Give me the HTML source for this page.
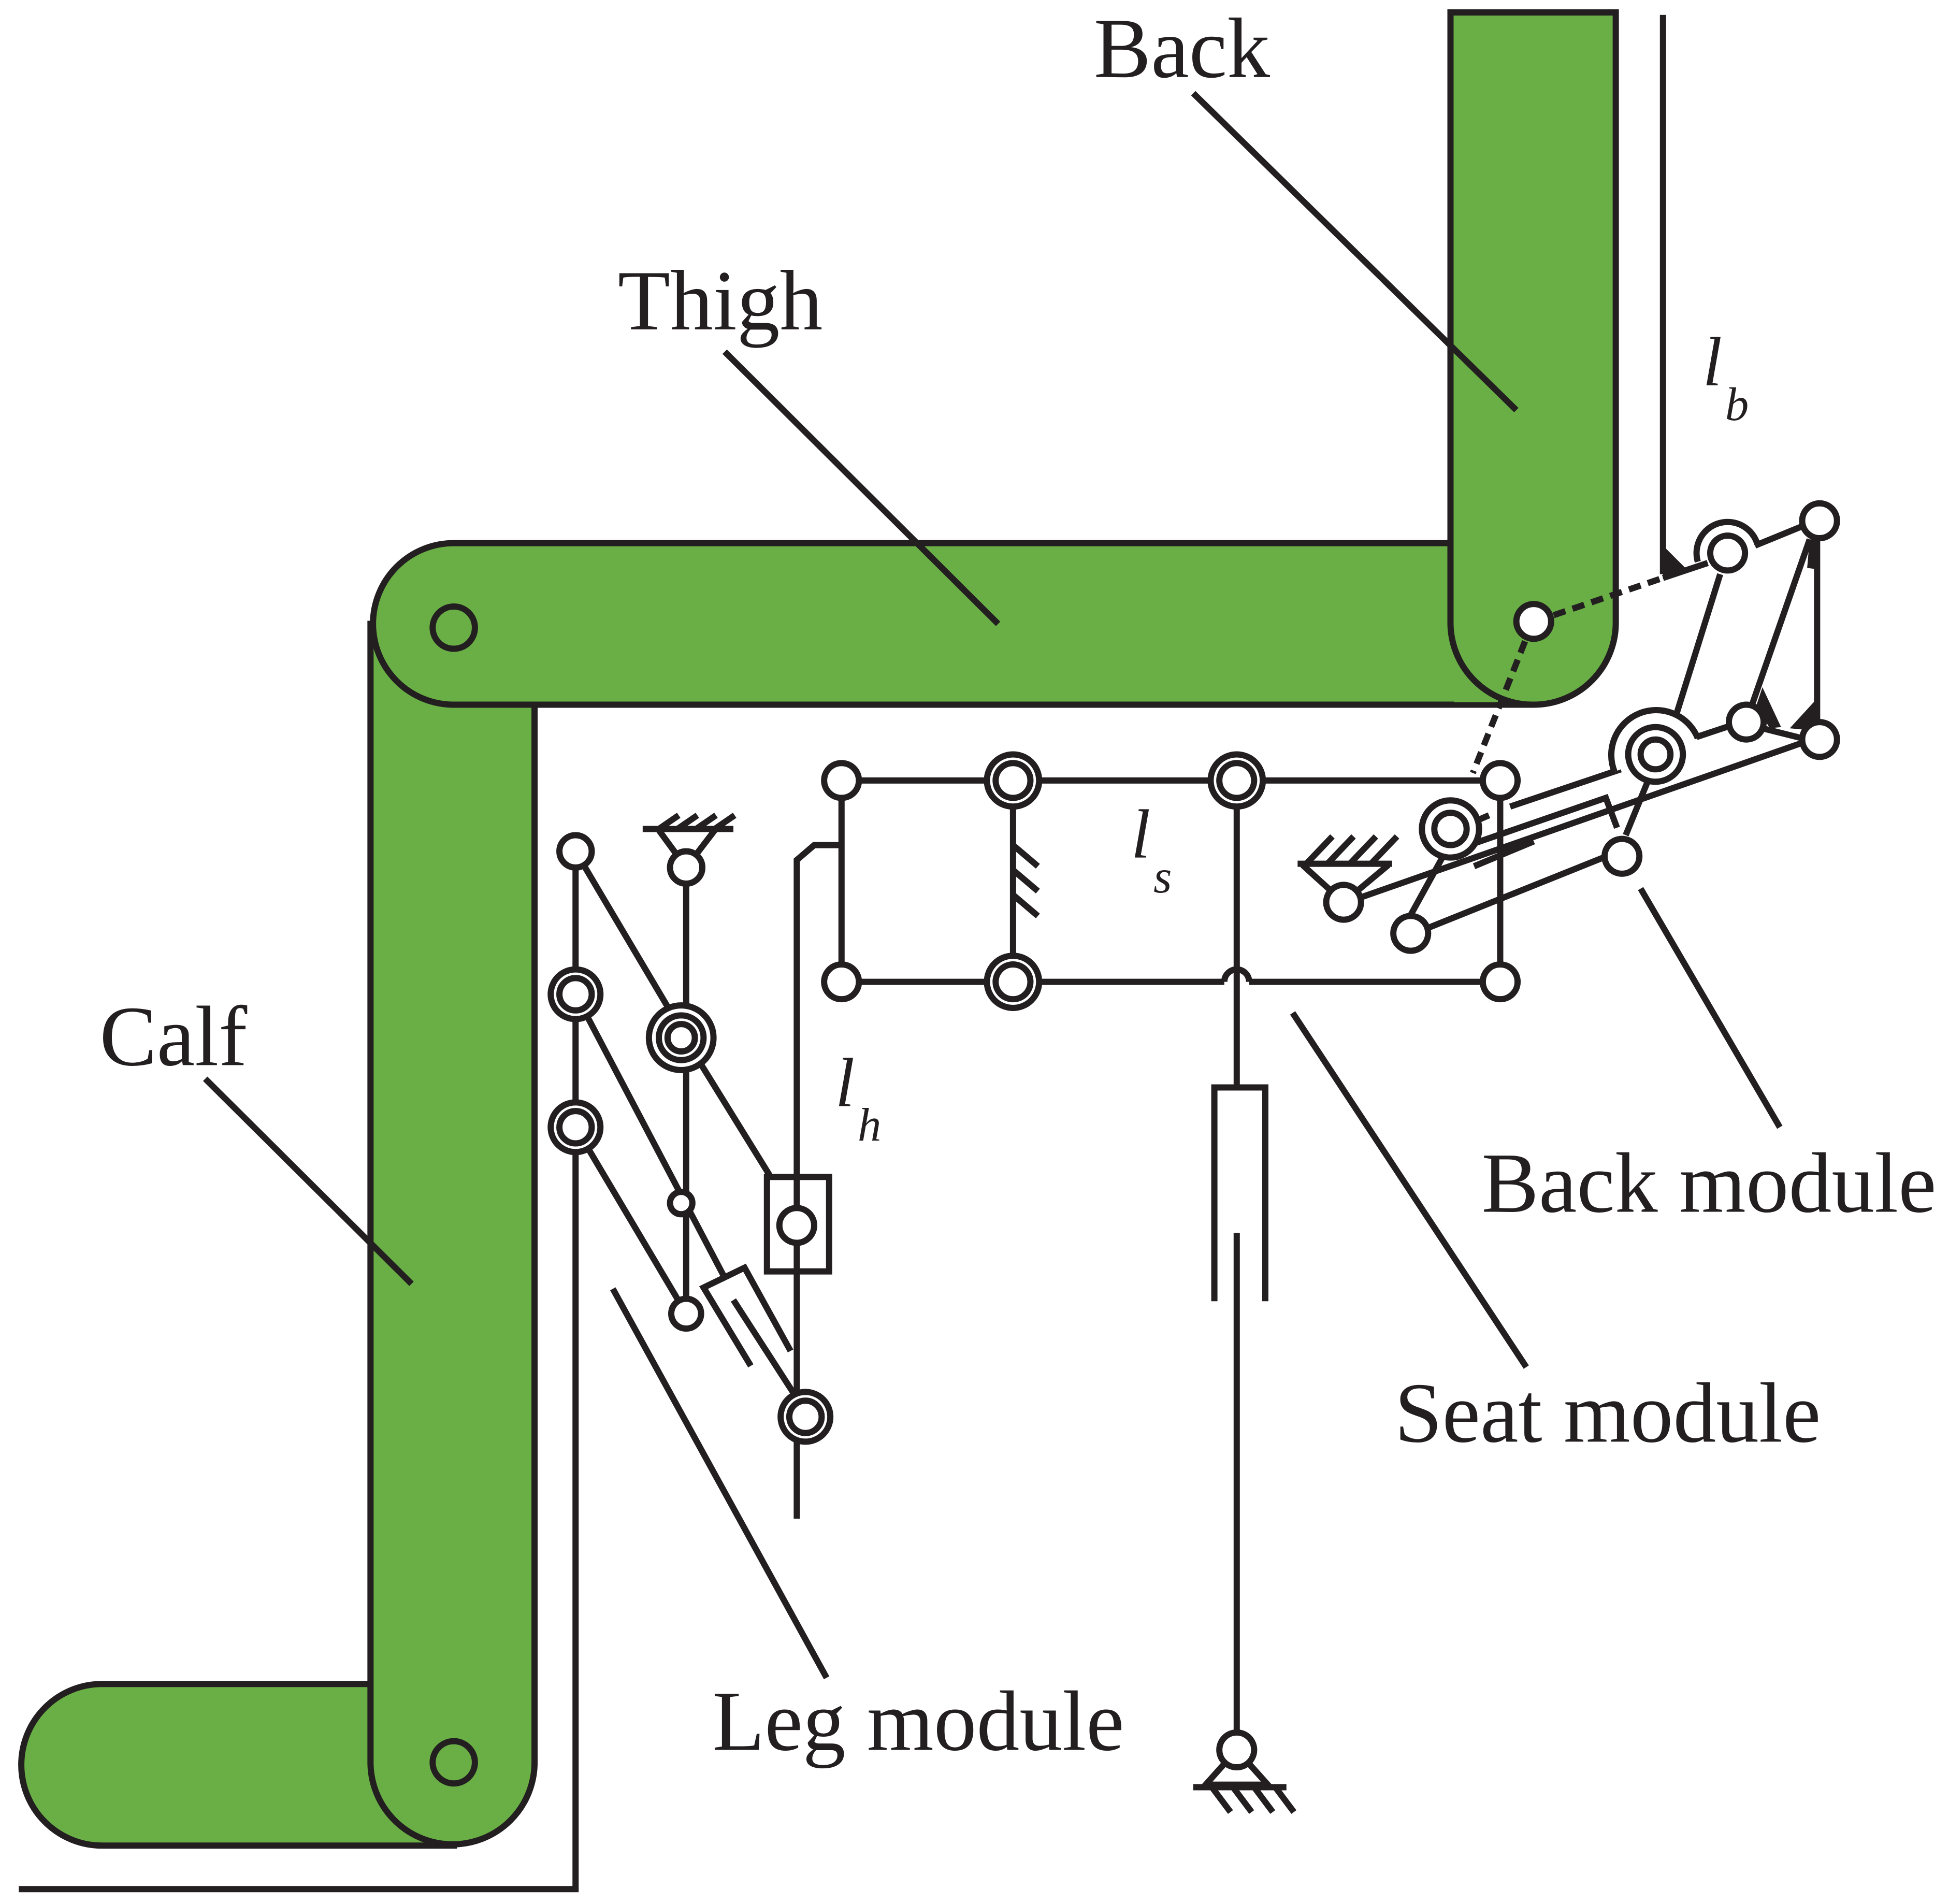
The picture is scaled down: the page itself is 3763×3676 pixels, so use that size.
<!DOCTYPE html>
<html><head><meta charset="utf-8"><style>
html,body{margin:0;padding:0;background:#fff;}
svg{display:block;}
text{font-family:"Liberation Serif",serif;fill:#231f20;}
</style></head><body>
<svg width="3763" height="3676" viewBox="0 0 1568 1532" xmlns="http://www.w3.org/2000/svg">
<g stroke="#231f20" stroke-width="5" fill="none" stroke-linecap="butt">
<path d="M82,1355 H365 V1485 H82 A65,65 0 0 1 82,1355 Z" fill="#6aaf46"/>
<path d="M298,502 V1418 A66,66 0 0 0 430,1418 V502 Z" fill="#6aaf46"/>
<path d="M1200,437 H365 A65,65 0 0 0 365,567 H1234" fill="#6aaf46"/>
<rect x="1170" y="439" width="40" height="126" fill="#6aaf46" stroke="none"/>
<path d="M1167,10 H1300 V500 A66,66 0 0 1 1234,567 A66,66 0 0 1 1167,500 Z" fill="#6aaf46"/>
<circle cx="365" cy="505" r="17" fill="#6aaf46"/>
<circle cx="365" cy="1418" r="17" fill="#6aaf46"/>
<line x1="960" y1="75" x2="1220" y2="330"/>
<line x1="583" y1="283" x2="803" y2="502"/>
<line x1="165" y1="868" x2="331" y2="1033"/>
<line x1="493" y1="1037" x2="665" y2="1350"/>
<line x1="1040" y1="815" x2="1228" y2="1100"/>
<line x1="1320" y1="715" x2="1432" y2="907"/>
<line x1="1338" y1="12" x2="1338" y2="462"/>
<path d="M1338,439 L1359,460 L1338,466 Z" fill="#231f20" stroke="none"/>
<polyline points="463,685 463,1520 15,1520"/>
<line x1="463" y1="685" x2="540" y2="815"/>
<line x1="552" y1="698" x2="552" y2="1057"/>
<line x1="560" y1="850" x2="620" y2="947"/>
<rect x="617" y="947" width="50" height="76" fill="#fff"/>
<polyline points="641,1222 641,692 655,680 677,680"/>
<line x1="463" y1="800" x2="584" y2="1030"/>
<line x1="463" y1="907" x2="552" y2="1057"/>
<polyline points="604,1099 566,1036 599,1020 636,1087"/>
<line x1="590" y1="1046" x2="641" y2="1125"/>
<path d="M530,668 L552,698 L575,668" fill="#fff"/>
<line x1="517" y1="667" x2="590" y2="667"/>
<line x1="530" y1="667" x2="546" y2="656"/><line x1="545" y1="667" x2="561" y2="656"/><line x1="560" y1="667" x2="576" y2="656"/><line x1="575" y1="667" x2="591" y2="656"/>
<line x1="677" y1="628" x2="1207" y2="628"/>
<line x1="677" y1="790" x2="985" y2="790"/>
<line x1="1005" y1="790" x2="1207" y2="790"/>
<path d="M985,790 A10,10 0 0 1 1005,790"/>
<line x1="677" y1="628" x2="677" y2="790"/>
<line x1="815" y1="628" x2="815" y2="790"/>
<line x1="815" y1="680" x2="835" y2="697"/><line x1="815" y1="700" x2="835" y2="717"/><line x1="815" y1="720" x2="835" y2="737"/>
<line x1="1207" y1="628" x2="1207" y2="790"/>
<line x1="995" y1="628" x2="995" y2="875"/>
<polyline points="977,1047 977,875 1018,875 1018,1047"/>
<line x1="995" y1="992" x2="995" y2="1408"/>
<path d="M970,1436 H1020 L995,1408 Z" fill="#fff"/>
<line x1="960" y1="1438" x2="1035" y2="1438"/>
<line x1="975" y1="1438" x2="990" y2="1458"/><line x1="992" y1="1438" x2="1007" y2="1458"/><line x1="1009" y1="1438" x2="1024" y2="1458"/><line x1="1026" y1="1438" x2="1041" y2="1458"/>
<line x1="1250" y1="495" x2="1338" y2="465" stroke-dasharray="10,6"/>
<line x1="1338" y1="465" x2="1374" y2="453"/>
<line x1="1227" y1="516" x2="1185" y2="622" stroke-dasharray="10,6"/>
<line x1="1412" y1="439" x2="1456" y2="421"/>
<line x1="1462" y1="418" x2="1462" y2="595"/>
<line x1="1456" y1="434" x2="1410" y2="566"/>
<path d="M1454,457 L1462,458 L1462,434 L1456,434 Z" fill="#231f20" stroke="none"/>
<path d="M1418,553 L1433,585 L1424,586 L1413,568 Z" fill="#231f20" stroke="none"/>
<path d="M1440,586 L1462,562 L1462,588 Z" fill="#231f20" stroke="none"/>
<line x1="1384" y1="462" x2="1344" y2="590"/>
<line x1="1365" y1="593" x2="1392" y2="584"/>
<line x1="1418" y1="586" x2="1450" y2="594"/>
<line x1="1452" y1="597" x2="1095" y2="722"/>
<line x1="1215" y1="649" x2="1304" y2="619"/>
<polyline points="1182,680 1292,642 1301,666"/>
<line x1="1186" y1="697" x2="1234" y2="677"/>
<polyline points="1326,628 1308,672"/>
<line x1="1184" y1="662" x2="1198" y2="656"/>
<line x1="1134" y1="738" x2="1161" y2="689"/>
<line x1="1148" y1="747" x2="1290" y2="690"/>
<path d="M1048,696 L1081,726 L1117,696" fill="#fff"/>
<line x1="1044" y1="695" x2="1120" y2="695"/>
<line x1="1051" y1="695" x2="1072" y2="673"/><line x1="1068" y1="695" x2="1089" y2="673"/><line x1="1086" y1="695" x2="1107" y2="673"/><line x1="1103" y1="695" x2="1124" y2="673"/>
<g fill="#fff">
<circle cx="1234" cy="500" r="14"/>
<circle cx="463" cy="685" r="13"/>
<circle cx="552" cy="698" r="13"/>
<circle cx="463" cy="800" r="20"/><circle cx="463" cy="800" r="13"/>
<circle cx="463" cy="907" r="20"/><circle cx="463" cy="907" r="13"/>
<circle cx="548" cy="835" r="26"/><circle cx="548" cy="835" r="18"/><circle cx="548" cy="835" r="11"/>
<circle cx="548" cy="968" r="9"/>
<circle cx="552" cy="1057" r="12"/>
<circle cx="641" cy="986" r="14"/>
<circle cx="648" cy="1140" r="20"/><circle cx="648" cy="1140" r="13"/>
<circle cx="677" cy="628" r="14"/>
<circle cx="815" cy="628" r="21"/><circle cx="815" cy="628" r="14"/>
<circle cx="995" cy="628" r="21"/><circle cx="995" cy="628" r="14"/>
<circle cx="1207" cy="628" r="14"/>
<circle cx="677" cy="790" r="14"/>
<circle cx="815" cy="790" r="21"/><circle cx="815" cy="790" r="14"/>
<circle cx="1207" cy="790" r="14"/>
<circle cx="995" cy="1408" r="14"/>
<path d="M1366,452 A25,25 0 1 1 1414,438"/>
<circle cx="1390" cy="445" r="14"/>
<circle cx="1464" cy="419" r="14"/>
<circle cx="1464" cy="595" r="14"/>
<circle cx="1405" cy="581" r="14"/>
<path d="M1299,621 A36,36 0 1 1 1366,594"/>
<circle cx="1332" cy="607" r="22"/><circle cx="1332" cy="607" r="12"/>
<circle cx="1167" cy="667" r="23"/><circle cx="1167" cy="667" r="13"/>
<circle cx="1305" cy="689" r="14"/>
<circle cx="1135" cy="751" r="14"/>
<circle cx="1081" cy="726" r="14"/>
</g>
</g>
<g font-size="69">
<text x="880" y="62">Back</text>
<text x="497" y="265">Thigh</text>
<text x="80" y="857">Calf</text>
<text x="1192" y="975">Back module</text>
<text x="1122" y="1160">Seat module</text>
<text x="573" y="1408">Leg module</text>
</g>
<g font-style="italic">
<text x="1370" y="310" font-size="56">l</text><text x="1388" y="338" font-size="38">b</text>
<text x="672" y="890" font-size="56">l</text><text x="690" y="918" font-size="38">h</text>
<text x="910" y="690" font-size="56">l</text><text x="928" y="718" font-size="38">s</text>
</g>
</svg>
</body></html>
